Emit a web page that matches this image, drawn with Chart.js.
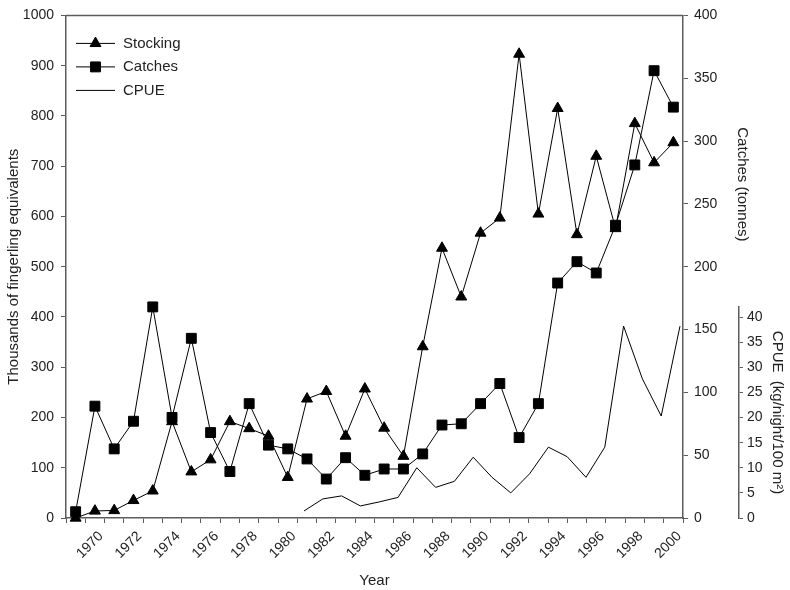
<!DOCTYPE html>
<html>
<head>
<meta charset="utf-8">
<script src="https://cdn.jsdelivr.net/npm/chart.js@4/dist/chart.umd.min.js"></script>
<style>
  html, body { margin: 0; padding: 0; background: #ffffff; }
  canvas { display: block; }
</style>
</head>
<body>
<canvas id="chart" width="790" height="590"></canvas>
<script>
// Fish stocking, catches and CPUE, 1969–2000
const years = [1969, 1970, 1971, 1972, 1973, 1974, 1975, 1976, 1977, 1978, 1979,
               1980, 1981, 1982, 1983, 1984, 1985, 1986, 1987, 1988, 1989, 1990,
               1991, 1992, 1993, 1994, 1995, 1996, 1997, 1998, 1999, 2000];

// Thousands of fingerling equivalents
const stocking = [0, 14, 15, 35, 54, 192, 92, 116, 192, 178, 163,
                  81, 237, 252, 163, 257, 179, 123, 341, 537, 440, 567,
                  597, 923, 605, 815, 564, 720, 576, 785, 707, 747];

// Catches (tonnes)
const catches = [5, 89, 55, 77, 168, 80, 143, 68, 37, 91, 58,
                 55, 47, 31, 48, 34, 39, 39, 51, 74, 75, 91,
                 107, 64, 91, 187, 204, 195, 233, 281, 356, 327];

// CPUE (kg/night/100 m²), on its own year axis
const cpueYears = [1980, 1981, 1982, 1983, 1984, 1985, 1986, 1987, 1988, 1989, 1990,
                   1991, 1992, 1993, 1994, 1995, 1996, 1997, 1998, 1999, 2000];
const cpue = [1.4, 3.8, 4.4, 2.4, 3.2, 4.1, 10.0, 6.1, 7.3, 12.1, 8.1,
              5.0, 8.8, 14.1, 12.2, 8.1, 14.1, 38.2, 27.7, 20.3, 38.2];

const FONT = '"Liberation Sans", Arial, Helvetica, sans-serif';
const AXIS = '#5c5c5c';
const TEXT = '#222222';

Chart.defaults.font.family = FONT;
Chart.defaults.color = TEXT;

// Places the short CPUE axis in the lower part of the right margin
const cpueAxisPlacement = {
  id: 'cpueAxisPlacement',
  afterLayout(chart, args, opts) {
    const s = chart.scales.yCpue;
    const a = chart.chartArea;
    s.left = a.right + opts.gap;
    s.right = chart.width;
    s.width = s.right - s.left;
    s.bottom = a.bottom;
    s.top = a.bottom - (a.bottom - a.top) * opts.heightFraction;
    s.height = s.bottom - s.top;
    s.configure();
  }
};

// Top edge of the plot frame
const frameTop = {
  id: 'frameTop',
  afterDraw(chart, args, opts) {
    const {ctx, chartArea: a} = chart;
    ctx.save();
    ctx.strokeStyle = opts.color;
    ctx.lineWidth = opts.width;
    ctx.beginPath();
    ctx.moveTo(a.left, a.top);
    ctx.lineTo(a.right, a.top);
    ctx.stroke();
    ctx.restore();
  }
};

// Title for the catches axis, set above the CPUE axis
const catchesTitle = {
  id: 'catchesTitle',
  afterDraw(chart, args, opts) {
    const {ctx, chartArea: a} = chart;
    ctx.save();
    ctx.translate(a.right + opts.dx, a.top + opts.dy);
    ctx.rotate(Math.PI / 2);
    ctx.font = opts.size + 'px ' + FONT;
    ctx.fillStyle = TEXT;
    ctx.textAlign = 'center';
    ctx.textBaseline = 'middle';
    ctx.fillText(opts.text, 0, 0);
    ctx.restore();
  }
};

// Legend drawn inside the plot, each entry as line + marker
const insideLegend = {
  id: 'insideLegend',
  afterDraw(chart, args, opts) {
    const {ctx, chartArea: a} = chart;
    ctx.save();
    ctx.font = opts.size + 'px ' + FONT;
    chart.data.datasets.forEach((ds, i) => {
      const x0 = a.left + opts.left;
      const y = a.top + opts.top + i * opts.rowGap;
      ctx.strokeStyle = ds.borderColor;
      ctx.lineWidth = ds.borderWidth;
      ctx.beginPath();
      ctx.moveTo(x0, y);
      ctx.lineTo(x0 + opts.lineLength, y);
      ctx.stroke();
      if (ds.pointRadius > 0) {
        ctx.fillStyle = ds.pointBackgroundColor;
        ctx.strokeStyle = ds.pointBorderColor;
        ctx.lineWidth = ds.pointBorderWidth;
        Chart.helpers.drawPoint(ctx, {
          pointStyle: ds.pointStyle, radius: ds.pointRadius,
          borderWidth: ds.pointBorderWidth, rotation: 0
        }, x0 + opts.lineLength / 2, y);
      }
      ctx.fillStyle = TEXT;
      ctx.textAlign = 'left';
      ctx.textBaseline = 'middle';
      ctx.fillText(ds.label, x0 + opts.lineLength + opts.textGap, y);
    });
    ctx.restore();
  }
};

const tickFont = {family: FONT, size: 14};
const titleFont = {family: FONT, size: 15};
const plainNumber = (v) => String(v);

new Chart(document.getElementById('chart'), {
  type: 'line',
  data: {
    labels: years,
    datasets: [
      {
        label: 'Stocking',
        data: stocking,
        xAxisID: 'x', yAxisID: 'y',
        borderColor: '#000', borderWidth: 1,
        pointStyle: 'triangle', pointRadius: 6.3,
        pointBackgroundColor: '#000', pointBorderColor: '#000', pointBorderWidth: 1,
        tension: 0, clip: false
      },
      {
        label: 'Catches',
        data: catches,
        xAxisID: 'x', yAxisID: 'yCatch',
        borderColor: '#000', borderWidth: 1,
        pointStyle: 'rect', pointRadius: 7,
        pointBackgroundColor: '#000', pointBorderColor: '#000', pointBorderWidth: 1,
        tension: 0, clip: false
      },
      {
        label: 'CPUE',
        data: cpueYears.map((yr, i) => ({x: yr, y: cpue[i]})),
        xAxisID: 'xCpue', yAxisID: 'yCpue',
        borderColor: '#000', borderWidth: 1,
        pointRadius: 0,
        tension: 0, clip: false
      }
    ]
  },
  options: {
    responsive: false,
    animation: false,
    devicePixelRatio: 1,
    layout: {padding: {top: 13, left: 0, right: 0, bottom: 0}},
    plugins: {
      legend: {display: false},
      tooltip: {enabled: false},
      cpueAxisPlacement: {gap: 56, heightFraction: 212 / 505},
      frameTop: {color: AXIS, width: 1.5},
      catchesTitle: {text: 'Catches (tonnes)', dx: 59, dy: 169, size: 15},
      insideLegend: {left: 10, top: 28, rowGap: 23.5, lineLength: 39, textGap: 8, size: 15}
    },
    scales: {
      x: {
        type: 'category',
        position: 'bottom',
        offset: true,
        grid: {offset: true, drawOnChartArea: false, tickLength: 5, color: AXIS, lineWidth: 1},
        border: {display: true, color: AXIS, width: 1.5},
        ticks: {
          autoSkip: false, minRotation: 45, maxRotation: 45,
          padding: 5, labelOffset: 6, font: tickFont, color: TEXT,
          callback: (value, index) => (years[index] % 2 === 0 ? String(years[index]) : '')
        },
        title: {display: true, text: 'Year', font: titleFont, color: TEXT, padding: {top: 0, bottom: 0}},
        afterFit: (s) => { s.height = 72; }
      },
      xCpue: {
        type: 'linear',
        display: false,
        min: 1967.34,
        max: 2000.16
      },
      y: {
        type: 'linear',
        position: 'left',
        min: 0, max: 1000,
        grid: {drawOnChartArea: false, tickLength: 5, color: AXIS, lineWidth: 1},
        border: {display: true, color: AXIS, width: 1.5},
        ticks: {stepSize: 100, padding: 7, font: tickFont, color: TEXT, callback: plainNumber},
        title: {display: true, text: 'Thousands of fingerling equivalents', font: titleFont, color: TEXT, padding: {top: 5, bottom: 0}},
        afterFit: (s) => { s.width = 66; }
      },
      yCatch: {
        type: 'linear',
        position: 'right',
        min: 0, max: 400,
        grid: {drawOnChartArea: false, tickLength: 5, color: AXIS, lineWidth: 1},
        border: {display: true, color: AXIS, width: 1.5},
        ticks: {stepSize: 50, padding: 6, font: tickFont, color: TEXT, callback: plainNumber},
        title: {display: false},
        afterFit: (s) => { s.width = 107; }
      },
      yCpue: {
        type: 'linear',
        position: 'right',
        min: 0, max: 42,
        grid: {drawOnChartArea: false, tickLength: 4, color: AXIS, lineWidth: 1},
        border: {display: true, color: AXIS, width: 1.5},
        ticks: {stepSize: 5, includeBounds: false, padding: 4, font: tickFont, color: TEXT, callback: plainNumber},
        title: {display: true, text: 'CPUE  (kg/night/100 m²)', font: titleFont, color: TEXT, padding: {top: 4, bottom: 0}},
        afterFit: (s) => { s.width = 0; }
      }
    }
  },
  plugins: [cpueAxisPlacement, frameTop, catchesTitle, insideLegend]
});
</script>
</body>
</html>
